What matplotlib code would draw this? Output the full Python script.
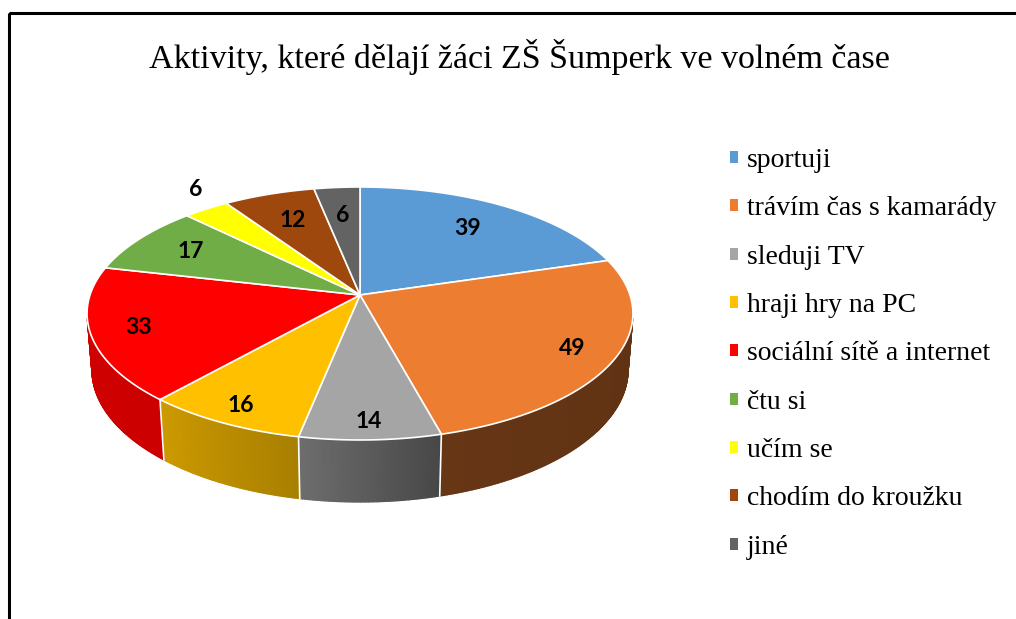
import numpy as np
import matplotlib
matplotlib.use("Agg")
import matplotlib.pyplot as plt
from matplotlib.patches import Patch, Polygon, Rectangle
from matplotlib.collections import PolyCollection
from matplotlib.colors import to_rgb

title = "Aktivity, které dělají žáci ZŠ Šumperk ve volném čase"
categories = ["sportuji", "trávím čas s kamarády", "sleduji TV", "hraji hry na PC",
              "sociální sítě a internet", "čtu si", "učím se", "chodím do kroužku", "jiné"]
counts = [39, 49, 14, 16, 33, 17, 6, 12, 6]
colors = ["#5B9BD5", "#ED7D31", "#A5A5A5", "#FFC000", "#FF0000",
          "#70AD47", "#FFFF00", "#9E480E", "#636363"]

# fake 3d pie: a flat disc seen from above with a bit of perspective
cx, cy = 360, 295
tilt_sin = 0.4585
tilt_cos = np.sqrt(1 - tilt_sin ** 2)
dist = 6.08
focal = 270 * dist
thick = 0.236


def project(phi, r=1.0, z=0.0):
    """phi in degrees, clockwise from 12 o'clock."""
    a = np.radians(phi)
    u = r * np.sin(a)
    v = r * np.cos(a)
    depth = dist + v * tilt_cos - z * tilt_sin
    x = cx + focal * u / depth
    y = cy - focal * (v * tilt_sin + z * tilt_cos) / depth
    return x, y


def side_shade(phi):
    return np.interp(phi, [90, 165, 191, 221, 290], [0.40, 0.43, 0.66, 0.80, 0.83])


fig = plt.figure(figsize=(10.16, 6.19), dpi=100)
ax = fig.add_axes([0, 0, 1, 1])
ax.set_xlim(0, 1016)
ax.set_ylim(619, 0)
ax.axis("off")

bounds = 360 * np.concatenate([[0], np.cumsum(counts)]) / sum(counts)

# only the front part of the outer wall faces the camera
limit = np.degrees(np.arccos(-1 / (dist * tilt_cos)))
lo, hi = limit, 360 - limit

quads, qcols = [], []
for i in range(len(counts)):
    a0, a1 = max(bounds[i], lo), min(bounds[i + 1], hi)
    if a1 <= a0:
        continue
    steps = np.linspace(a0, a1, int(np.ceil((a1 - a0) * 2)) + 1)
    base = np.array(to_rgb(colors[i]))
    for p, q in zip(steps[:-1], steps[1:]):
        quads.append([project(p), project(q), project(q, z=-thick), project(p, z=-thick)])
        qcols.append(np.clip(base * side_shade((p + q) / 2), 0, 1))
ax.add_collection(PolyCollection(quads, facecolors=qcols, edgecolors=qcols, linewidths=0.9))

for b in bounds[1:-1]:
    if lo < b < hi:
        x0, y0 = project(b)
        x1, y1 = project(b, z=-thick)
        ax.plot([x0, x1], [y0, y1], color="white", lw=1.2)

# top face
for i in range(len(counts)):
    arc = np.linspace(bounds[i], bounds[i + 1], 80)
    xs, ys = project(arc)
    pts = [(cx, cy)] + list(zip(xs, ys))
    ax.add_patch(Polygon(pts, closed=True, fc=colors[i], ec="white", lw=1.2))

# value labels, the tiny slice gets its label outside (radius, angle shift)
outside = {"učím se": (1.2, 4)}
for i, n in enumerate(counts):
    mid = (bounds[i] + bounds[i + 1]) / 2
    r, shift = outside.get(categories[i], (0.80 - 0.09 * np.cos(np.radians(mid)), 0))
    x, y = project(mid + shift, r)
    ax.text(x, y, str(n), ha="center", va="center", fontsize=16.5,
            fontweight="bold", family="Lato", color="black")

ax.text(519, 57, title, ha="center", va="center", fontsize=24.5,
        family="Liberation Serif", color="black")

handles = [Patch(fc=c, ec="none") for c in colors]
fig.legend(handles, categories, loc="upper left", bbox_to_anchor=(730 / 1016, 1 - 148 / 619),
           frameon=False, borderpad=0, borderaxespad=0, handlelength=0.3, handleheight=0.3,
           handletextpad=0.32, labelspacing=0.84,
           prop={"family": "Liberation Serif", "size": 20})

ax.add_patch(Rectangle((9, 13), 1300, 900, fill=False, ec="black", lw=2.2))

fig.savefig("out.png", dpi=100)
